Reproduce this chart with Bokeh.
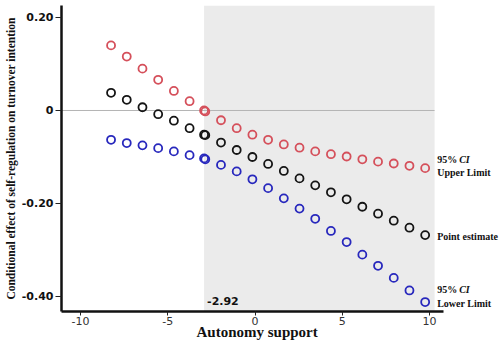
import math
from bokeh.plotting import figure
from bokeh.models import BoxAnnotation, Label, FixedTicker, Title
from bokeh.embed import file_html
from bokeh.resources import INLINE

# ---------------- data ----------------
autonomy = [-8.25, -7.35, -6.45, -5.55, -4.65, -3.75, -2.92, -2.85, -1.95, -1.05, -0.15,
            0.75, 1.65, 2.55, 3.45, 4.35, 5.25, 6.15, 7.05, 7.95, 8.85, 9.75]
upper = [0.140, 0.116, 0.090, 0.066, 0.042, 0.020, 0.000, -0.002, -0.021, -0.038, -0.052,
         -0.063, -0.073, -0.080, -0.088, -0.094, -0.099, -0.105, -0.110, -0.114, -0.119, -0.124]
point = [0.038, 0.023, 0.007, -0.008, -0.022, -0.038, -0.052, -0.053, -0.069, -0.085, -0.100,
         -0.115, -0.130, -0.146, -0.161, -0.176, -0.191, -0.207, -0.222, -0.237, -0.252, -0.268]
lower = [-0.063, -0.070, -0.075, -0.081, -0.088, -0.096, -0.103, -0.105, -0.117, -0.131, -0.148,
         -0.167, -0.189, -0.211, -0.233, -0.259, -0.283, -0.310, -0.334, -0.360, -0.387, -0.412]

jn_point = -2.92
jn_label = "-2.92"
shade_end = 10.29

x_ticks = [-10, -5, 0, 5, 10]
x_tick_labels = ["-10", "-5", "0", "5", "10"]
y_ticks = [-0.40, -0.20, 0.0, 0.20]
y_tick_labels = ["-0.40", "-0.20", "0", "0.20"]

x_title = "Autonomy support"
y_title = "Conditional effect of self-regulation on turnover intention"

# ---------------- layout ----------------
X_START, X_AXIS_END, X_END = -11.09, 10.80, 14.01
Y_START, Y_END = -0.4323, 0.2258

RED = "#d5505b"
BLACK = "#151515"
BLUE = "#2828bd"
SERIF = "Liberation Serif"
SANS = "DejaVu Sans"

p = figure(width=499, height=341, output_backend="svg", toolbar_location=None,
           x_range=(X_START, X_END), y_range=(Y_START, Y_END),
           min_border_left=61, min_border_right=0, min_border_top=5, min_border_bottom=30)
p.outline_line_color = None
p.xgrid.visible = False
p.ygrid.visible = False
p.background_fill_color = "white"

# shaded region of significance
p.add_layout(BoxAnnotation(left=jn_point, right=shade_end, fill_color="#ebebeb",
                           fill_alpha=1.0, line_color=None, level="underlay"))

# zero reference line
p.segment(x0=[X_START], y0=[0], x1=[shade_end], y1=[0], line_color="#b5b5b5", line_width=1)

for ys, col in ((upper, RED), (point, BLACK), (lower, BLUE)):
    p.scatter(autonomy, ys, marker="circle", size=8, fill_color=None,
              line_color=col, line_width=1.8)

# axes
for ax in (p.xaxis[0], p.yaxis[0]):
    ax.axis_line_width = 2.5
    ax.axis_line_color = "#111111"
    ax.major_tick_line_color = "#222222"
    ax.major_tick_line_width = 1
    ax.minor_tick_line_color = None
    ax.major_tick_in = 0

p.xaxis.bounds = (X_START, X_AXIS_END)
p.xaxis.ticker = FixedTicker(ticks=x_ticks)
p.xaxis.major_label_overrides = {t: l for t, l in zip(x_ticks, x_tick_labels)}
p.xaxis.major_tick_out = 4
p.xaxis.major_label_standoff = 1
p.xaxis.major_label_text_font = SANS
p.xaxis.major_label_text_font_size = "11px"
p.xaxis.major_label_text_color = "#333333"

p.add_layout(Title(text=x_title, align="left", offset=135, standoff=-11,
                   text_font=SERIF, text_font_size="15px", text_font_style="bold",
                   text_color="#111111"), "below")

p.yaxis.ticker = FixedTicker(ticks=y_ticks)
p.yaxis.major_label_overrides = {t: l for t, l in zip(y_ticks, y_tick_labels)}
p.yaxis.major_tick_out = 6
p.yaxis.major_label_standoff = 2
p.yaxis.major_label_text_font = SANS
p.yaxis.major_label_text_font_size = "11px"
p.yaxis.major_label_text_font_style = "bold"
p.yaxis.major_label_text_color = "#111111"
p.yaxis.axis_label = y_title
p.yaxis.axis_label_standoff = 2
p.yaxis.axis_label_text_font = SERIF
p.yaxis.axis_label_text_font_size = "11.5px"
p.yaxis.axis_label_text_font_style = "bold"
p.yaxis.axis_label_text_color = "#111111"

# J-N point label
p.add_layout(Label(x=jn_point, x_offset=3, y=Y_START + 0.023, text=jn_label,
                   text_font=SANS, text_font_size="11px", text_font_style="bold",
                   text_align="left", text_baseline="middle", text_color="#111111"))

# right-hand series labels
lx = autonomy[-1]
def series_label(txt, y, dx=12, style="bold"):
    p.add_layout(Label(x=lx, x_offset=dx, y=y, text=txt, text_font=SERIF,
                       text_font_size="10px", text_font_style=style,
                       text_align="left", text_baseline="middle", text_color="#111111"))

series_label("95%", upper[-1] + 0.019)
series_label("CI", upper[-1] + 0.019, dx=12 + 22, style="bold italic")
series_label("Upper Limit", upper[-1] - 0.009)
series_label("Point estimate", point[-1] - 0.003)
series_label("95%", lower[-1] + 0.027)
series_label("CI", lower[-1] + 0.027, dx=12 + 22, style="bold italic")
series_label("Lower Limit", lower[-1] - 0.003)

open("out.html", "w").write(file_html(p, INLINE))
